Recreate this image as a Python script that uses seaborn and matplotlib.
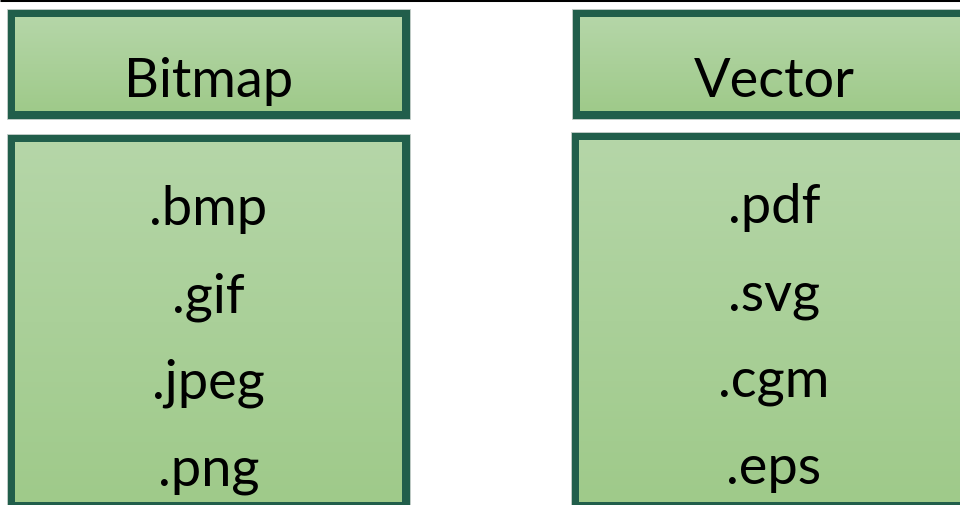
import matplotlib
matplotlib.use("Agg")
import matplotlib.pyplot as plt
import seaborn as sns
import numpy as np
from matplotlib.patches import Rectangle
from matplotlib.colors import LinearSegmentedColormap

# ---- content ----
headers = ["Bitmap", "Vector"]
bitmap_formats = [".bmp", ".gif", ".jpeg", ".png"]
vector_formats = [".pdf", ".svg", ".cgm", ".eps"]

sns.set_theme(style="white")
plt.rcParams["font.family"] = ["Lato", "DejaVu Sans"]

W, H = 960, 506
fig = plt.figure(figsize=(W / 100, H / 100), dpi=100)
ax = fig.add_axes([0, 0, 1, 1])

border = "#215E4B"
cmap = LinearSegmentedColormap.from_list("g", ["#B5D6A8", "#9FCA8A"])
BW = 8


def box(x0, y0, x1, y1):
    ax.add_patch(Rectangle((x0, y0), x1 - x0, y1 - y0, facecolor=border,
                           edgecolor="#C8D0CC", linewidth=0.6, zorder=1))
    grad = np.linspace(0, 1, 256).reshape(-1, 1)
    ax.imshow(grad, cmap=cmap, extent=(x0 + BW, x1 - BW, y1 - BW, y0 + BW),
              aspect="auto", interpolation="bilinear", zorder=2)


def label(x, y, s, clip, size=39):
    t = ax.text(x, y, s, ha="center", va="baseline", fontsize=size,
                color="black", zorder=3)
    r = Rectangle((clip[0], clip[1]), clip[2] - clip[0], clip[3] - clip[1],
                  transform=ax.transData)
    t.set_clip_path(r)


columns = [
    dict(head=(7, 10, 410, 120), body=(7, 135, 410, 511), cx=208.5, base0=225,
         items=bitmap_formats, title=headers[0]),
    dict(head=(572, 10, 975, 120), body=(571, 133, 974, 511), cx=774, base0=223,
         items=vector_formats, title=headers[1]),
]

for c in columns:
    box(*c["head"])
    box(*c["body"])
    hx0, hy0, hx1, hy1 = c["head"]
    label(c["cx"], 97, c["title"], (hx0 + BW, hy0 + BW, hx1 - BW, hy1 - BW - 3))
    bx0, by0, bx1, by1 = c["body"]
    for i, s in enumerate(c["items"]):
        label(c["cx"], c["base0"] + 87 * i, s, (bx0 + BW, by0 + BW, bx1 - BW, 493))

# top rule
ax.plot([0, W], [1, 1], color="black", linewidth=2.2, zorder=4, solid_capstyle="butt")

ax.set_xlim(0, W)
ax.set_ylim(H, 0)
ax.axis("off")
fig.savefig("out.png", dpi=100)
